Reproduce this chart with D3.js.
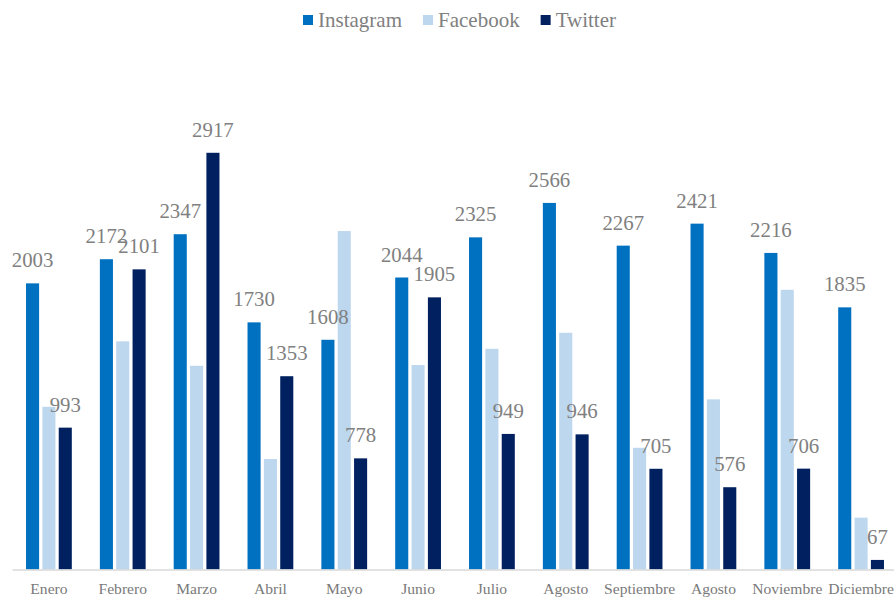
<!DOCTYPE html>
<html>
<head>
<meta charset="utf-8">
<script src="https://cdn.jsdelivr.net/npm/d3@7"></script>
<style>
  html, body { margin: 0; padding: 0; background: #ffffff; }
  svg { display: block; }
  svg text { font-family: "Liberation Serif", "Times New Roman", Times, serif; }
</style>
</head>
<body>
<svg id="chart" width="894" height="598"></svg>
<script>
const months = ["Enero","Febrero","Marzo","Abril","Mayo","Junio","Julio","Agosto","Septiembre","Agosto","Noviembre","Diciembre"];
const seriesNames = ["Instagram","Facebook","Twitter"];
const instagram = [2003,2172,2347,1730,1608,2044,2325,2566,2267,2421,2216,1835];
const facebook  = [1139,1597,1426,773,2369,1431,1545,1657,852,1191,1958,363];
const twitter   = [993,2101,2917,1353,778,1905,949,946,705,576,706,67];
const colors = ["#0070C0","#BDD7EE","#002060"];
const labelled = [true,false,true];

const seriesData = [instagram, facebook, twitter];
const svg = d3.select("#chart");
const plot = {left: 12, right: 898, top: 69.5, bottom: 569.5};
const font = '"Liberation Serif", "Times New Roman", Times, serif';

const cats = months.map((m,i) => i);
const x0 = d3.scaleBand().domain(cats).range([plot.left, plot.right]).padding(0);
const bw = x0.bandwidth();
const x1 = d3.scaleBand().domain(seriesNames).range([bw*0.19, bw*0.81]).paddingInner(0.2);
const y = d3.scaleLinear().domain([0, 3500]).range([plot.bottom, plot.top]);

// bars
const groups = svg.append("g").selectAll("g").data(cats).join("g")
  .attr("transform", i => `translate(${x0(i)},0)`);
groups.selectAll("rect")
  .data(i => seriesNames.map((s,k) => ({s, k, v: seriesData[k][i]})))
  .join("rect")
  .attr("x", d => x1(d.s))
  .attr("width", x1.bandwidth())
  .attr("y", d => y(d.v))
  .attr("height", d => y(0) - y(d.v))
  .attr("fill", d => colors[d.k]);

// axis
const xAxis = d3.axisBottom(x0).tickSize(0).tickPadding(0).tickFormat(i => months[i]);
const ax = svg.append("g").attr("transform", `translate(0,${plot.bottom})`).call(xAxis);
ax.attr("font-family", null).attr("font-size", null);
ax.select(".domain").attr("stroke", "#d9d9d9").attr("stroke-width", 1.5);
ax.selectAll(".tick text")
  .attr("y", 24.5).attr("dy", 0)
  .style("font-family", font).style("font-size", "15.6px").attr("fill", "#7a7a7a");

// data labels
groups.selectAll("text.lbl")
  .data(i => seriesNames.map((s,k) => ({s, k, v: seriesData[k][i]})).filter(d => labelled[d.k]))
  .join("text").attr("class","lbl")
  .attr("x", d => x1(d.s) + x1.bandwidth()/2)
  .attr("y", d => y(d.v) - 16)
  .attr("text-anchor", "middle")
  .style("font-family", font).style("font-size", "20.8px").attr("fill", "#808080")
  .text(d => d.v);

// legend
const leg = svg.append("g");
let cx = 0;
seriesNames.forEach((s,k) => {
  const g = leg.append("g");
  g.append("rect").attr("x", 0).attr("y", -5).attr("width", 10).attr("height", 10).attr("fill", colors[k]);
  const t = g.append("text").attr("x", 15).attr("y", 7)
    .style("font-family", font).style("font-size", "21px").attr("fill", "#808080").text(s);
  const w = 15 + t.node().getComputedTextLength();
  g.attr("transform", `translate(${cx},0)`);
  cx += w + 21;
});
const totalW = cx - 21;
leg.attr("transform", `translate(${459.5 - totalW/2},20)`);
</script>
</body>
</html>
